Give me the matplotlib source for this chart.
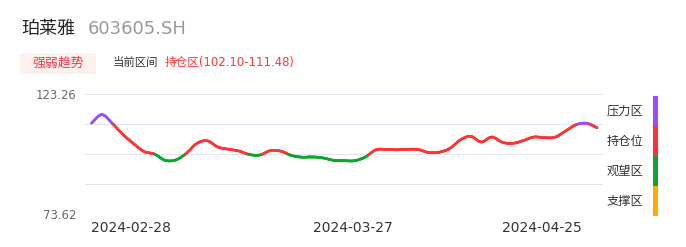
import matplotlib
matplotlib.use("Agg")
import matplotlib.pyplot as plt
import numpy as np
from matplotlib.collections import LineCollection
from matplotlib.patches import Rectangle

plt.rcParams['font.family'] = ['DejaVu Sans', 'Noto Sans CJK SC']

stock_name = "珀莱雅"
stock_code = "603605.SH"
badge_text = "强弱趋势"
range_label = "当前区间"
range_text = "持仓区(102.10-111.48)"

# closing price, one point per trading day
values = [111.14, 114.74, 111.06, 106.51, 102.74, 99.47, 98.40, 95.83, 95.96, 98.65,
          102.78, 103.90, 101.34, 100.43, 99.68, 98.23, 98.03, 99.85, 99.60, 97.82,
          97.12, 97.24, 96.79, 95.83, 95.67, 95.67, 97.20, 100.18, 100.34, 100.18,
          100.38, 100.30, 99.06, 99.18, 100.72, 104.23, 105.76, 103.40, 105.47, 103.28,
          102.87, 104.02, 105.47, 105.18, 105.39, 107.95, 110.56, 111.14, 109.28]
tick_idx = [0, 21, 39]
tick_text = ["2024-02-28", "2024-03-27", "2024-04-25"]
y_min, y_max = 73.62, 123.26

zone_names = ["压力区", "持仓位", "观望区", "支撑区"]
zone_colors = ["#a04cf6", "#ff3333", "#0da52c", "#ffab00"]


def smooth(x, y, n=16):
    # catmull-rom curve through the points, like the smooth line in the original
    px = np.concatenate([[2 * x[0] - x[1]], x, [2 * x[-1] - x[-2]]])
    py = np.concatenate([[2 * y[0] - y[1]], y, [2 * y[-1] - y[-2]]])
    t = np.linspace(0, 1, n, endpoint=False)[:, None]
    out = []
    for p in (px, py):
        p0, p1, p2, p3 = p[:-3], p[1:-2], p[2:-1], p[3:]
        c = 0.5 * ((2 * p1) + (-p0 + p2) * t + (2 * p0 - 5 * p1 + 4 * p2 - p3) * t ** 2
                   + (-p0 + 3 * p1 - 3 * p2 + p3) * t ** 3)
        out.append(np.append(c.T.ravel(), p[-2]))
    return out


W, H = 686, 247
fig = plt.figure(figsize=(W / 100, H / 100), dpi=100)

fig.text(21 / W, 1 - 29 / H, stock_name, fontsize=13, color="#222222", va="center")
fig.text(88 / W, 1 - 29 / H, stock_code, fontsize=13, color="#999999", va="center")

fig.add_artist(Rectangle((20 / W, 1 - 74 / H), 76 / W, 21 / H, transform=fig.transFigure,
                         facecolor="#fff2ee", edgecolor="none"))
fig.text(58 / W, 1 - 63.5 / H, badge_text, fontsize=9.3, color="#f5333f", ha="center", va="center")
fig.text(113 / W, 1 - 62.5 / H, range_label, fontsize=8.2, color="#333333", va="center")
fig.text(165 / W, 1 - 62.5 / H, range_text, fontsize=8.4, color="#ff3333", va="center")

ax = fig.add_axes([85 / W, 33 / H, 518 / W, 120 / H])
levels = np.linspace(y_min, y_max, 5)

x = np.arange(len(values), dtype=float)
sx, sy = smooth(x, np.array(values))
pts = np.column_stack([sx, sy])
segs = np.stack([pts[:-1], pts[1:]], axis=1)
mid = (sy[:-1] + sy[1:]) / 2
zone = np.digitize(mid, levels[1:-1])
colors = [zone_colors[3 - z] for z in zone]
ax.add_collection(LineCollection(segs, colors=colors, linewidth=1.9, capstyle="round"))

ax.set_xlim(-0.6, len(values) - 1 + 0.55)
ax.set_ylim(y_min, y_max)
ax.set_yticks(levels)
ax.set_yticklabels([f"{y_min:.2f}", "", "", "", f"{y_max:.2f}"])
ax.yaxis.grid(True, color="#e0e6f1", linewidth=0.8)
ax.set_xticks(tick_idx)
ax.set_xticklabels(tick_text, ha="left")
ax.tick_params(axis="y", length=0, pad=6, labelsize=8.4, labelcolor="#666666")
ax.tick_params(axis="x", length=0, pad=5, labelsize=10, labelcolor="#333333")
for s in ax.spines.values():
    s.set_visible(False)
ax.set_axisbelow(True)

# zone legend on the right
for i, (name, c) in enumerate(zip(zone_names, zone_colors)):
    top = 96 + i * 30
    fig.add_artist(Rectangle((653 / W, 1 - (top + 30) / H), 5 / W, 30 / H,
                             transform=fig.transFigure, facecolor=c, edgecolor="none"))
    fig.text(607 / W, 1 - (top + 15) / H, name, fontsize=8.8, color="#333333", va="center")

fig.savefig("out.png", dpi=100)
